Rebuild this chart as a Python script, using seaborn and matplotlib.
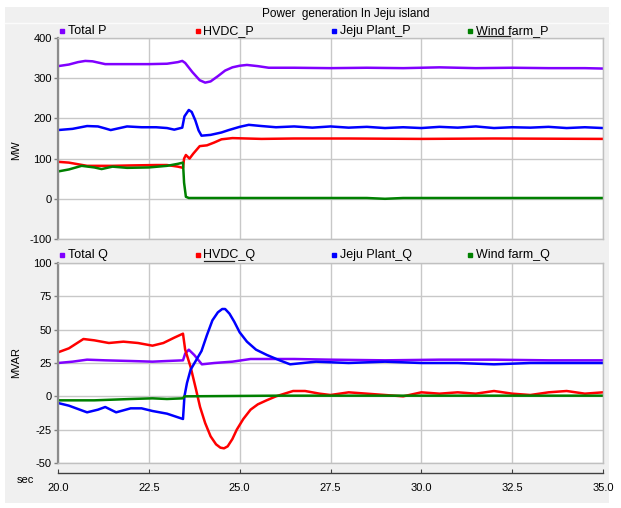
import numpy as np
import pandas as pd
import matplotlib
matplotlib.use("Agg")
import matplotlib.pyplot as plt
import seaborn as sns
from matplotlib.patches import Rectangle
from matplotlib.lines import Line2D

# ---------------- data ----------------
title = "Power  generation In Jeju island"
series_p = ["Total P", "HVDC_P", "Jeju Plant_P", "Wind farm_P"]
series_q = ["Total Q", "HVDC_Q", "Jeju Plant_Q", "Wind farm_Q"]
colors = ["#8000ff", "#ff0000", "#0000ff", "#008000"]

x_ticks = [20.0, 22.5, 25.0, 27.5, 30.0, 32.5, 35.0]
x_tick_labels = ["20.0", "22.5", "25.0", "27.5", "30.0", "32.5", "35.0"]
p_ticks = [400, 300, 200, 100, 0, -100]
q_ticks = [100, 75, 50, 25, 0, -25, -50]

t_total_p = [20.0, 20.3, 20.55, 20.75, 20.95, 21.15, 21.3, 22.0, 22.5, 23.0, 23.3, 23.42, 23.5,
             23.7, 23.9, 24.05, 24.2, 24.4, 24.6, 24.8, 25.0, 25.2, 25.5, 25.8, 26.5, 27.5,
             28.5, 29.5, 30.5, 31.5, 32.5, 33.5, 34.5, 35.0]
v_total_p = [330, 334, 340, 343, 342, 338, 335, 335, 335, 336, 340, 343, 338,
             315, 295, 289, 292, 305, 319, 327, 331, 333, 330, 326, 326, 325,
             326, 325, 327, 325, 326, 325, 325, 324]

t_hvdc_p = [20.0, 20.3, 20.8, 21.5, 22.0, 22.7, 23.0, 23.3, 23.44, 23.47, 23.52, 23.62, 23.72,
            23.9, 24.1, 24.3, 24.5, 24.8, 25.2, 25.6, 26.5, 28.0, 30.0, 32.0, 35.0]
v_hvdc_p = [92, 90, 82, 82, 83, 84, 84, 80, 77, 100, 109, 100, 112,
            131, 133, 140, 148, 151, 150, 149, 150, 150, 149, 150, 149]

t_jeju_p = [20.0, 20.4, 20.8, 21.1, 21.3, 21.45, 21.7, 21.9, 22.3, 22.7, 23.0, 23.2, 23.42, 23.48,
            23.6, 23.68, 23.78, 23.87, 23.95, 24.2, 24.5, 24.7, 25.0, 25.25, 25.6, 26.0, 26.5,
            27.0, 27.5, 28.0, 28.5, 29.0, 29.5, 30.0, 30.5, 31.0, 31.5, 32.0, 32.5, 33.0, 33.5,
            34.0, 34.5, 35.0]
v_jeju_p = [171, 174, 181, 180, 175, 171, 176, 180, 178, 178, 176, 172, 177, 205,
            221, 216, 195, 170, 157, 159, 165, 171, 179, 184, 181, 178, 180,
            177, 180, 177, 179, 176, 178, 176, 179, 177, 180, 176, 178, 177, 179,
            176, 178, 176]

t_wind_p = [20.0, 20.3, 20.65, 21.0, 21.2, 21.5, 21.9, 22.5, 23.0, 23.3, 23.44, 23.47, 23.52,
            23.6, 25.0, 28.5, 29.0, 29.5, 32.0, 35.0]
v_wind_p = [68, 73, 82, 78, 74, 80, 77, 78, 82, 87, 90, 40, 5,
            2, 2, 2, 0, 2, 2, 2]

t_total_q = [20.0, 20.4, 20.8, 21.3, 22.0, 22.6, 23.0, 23.44, 23.5, 23.6, 23.75, 23.96, 24.3,
             24.8, 25.3, 26.0, 26.5, 27.5, 29.0, 30.5, 32.0, 33.5, 35.0]
v_total_q = [25, 26, 27.5, 27, 26.5, 26, 26.5, 27, 32, 35, 31, 24, 25,
             26, 28, 28, 28, 27.5, 27, 27.5, 27.5, 27, 27]

t_hvdc_q = [20.0, 20.3, 20.7, 21.0, 21.4, 21.8, 22.2, 22.6, 22.9, 23.2, 23.44, 23.5, 23.65, 23.8,
            23.91, 24.05, 24.2, 24.35, 24.47, 24.57, 24.67, 24.8, 24.92, 25.1, 25.3, 25.5, 25.74,
            26.0, 26.47, 26.8, 27.2, 27.5, 28.0, 28.5, 29.0, 29.5, 30.0, 30.5, 31.0, 31.5, 32.0,
            32.5, 33.0, 33.5, 34.0, 34.5, 35.0]
v_hvdc_q = [33, 36, 43, 42, 40, 41, 40, 38, 40, 44, 47, 35, 22, 5,
            -8, -20, -30, -36, -38.5, -39, -37.5, -32, -25, -17, -10, -6, -3,
            0, 4, 4, 2, 1, 3, 2, 1, 0, 3, 2, 3, 2, 4,
            2, 1, 3, 4, 2, 3]

t_jeju_q = [20.0, 20.3, 20.8, 21.1, 21.3, 21.6, 22.0, 22.3, 22.6, 23.0, 23.44, 23.48, 23.55, 23.65,
            23.8, 23.95, 24.1, 24.25, 24.4, 24.52, 24.6, 24.72, 24.85, 25.0, 25.2, 25.45, 25.75,
            26.1, 26.39, 27.1, 28.0, 29.0, 30.0, 31.0, 32.0, 33.0, 34.0, 35.0]
v_jeju_q = [-5, -7, -12, -10, -8, -12, -9, -9, -11, -13, -17, 0, 10, 20,
            27, 34, 46, 57, 63, 65.5, 65.5, 62, 56, 48, 41, 35, 31,
            27, 24, 26, 25, 26, 25, 25, 24, 25, 25, 25]

t_wind_q = [20.0, 21.0, 22.0, 22.6, 23.0, 23.44, 23.48, 26.0, 35.0]
v_wind_q = [-3, -3, -2, -1.5, -2, -1.5, 0, 0.5, 0.5]


def long_df(names, ts, vs):
    parts = [pd.DataFrame({"t": t, "v": v, "s": n}) for n, t, v in zip(names, ts, vs)]
    return pd.concat(parts, ignore_index=True)


df_p = long_df(series_p, [t_total_p, t_hvdc_p, t_jeju_p, t_wind_p],
               [v_total_p, v_hvdc_p, v_jeju_p, v_wind_p])
df_q = long_df(series_q, [t_total_q, t_hvdc_q, t_jeju_q, t_wind_q],
               [v_total_q, v_hvdc_q, v_jeju_q, v_wind_q])

# ---------------- figure ----------------
plt.rcParams["font.family"] = ["Liberation Sans", "DejaVu Sans"]
W, H = 621, 508
fig = plt.figure(figsize=(W / 100, H / 100), dpi=100, facecolor="white")


def fx(x):
    return x / W


def fy(y):
    return 1 - y / H


fig.add_artist(Rectangle((fx(5), fy(503)), fx(609) - fx(5), fy(7) - fy(503),
                         transform=fig.transFigure, facecolor="#f0f0f0",
                         edgecolor="none", zorder=0))
fig.add_artist(Line2D([fx(5), fx(609)], [fy(22.5), fy(22.5)], transform=fig.transFigure,
                      color="#fbfbfb", lw=1, zorder=1))
fig.text(fx(346), fy(14), title, ha="center", va="center", fontsize=8.5, color="#000000")

ax1 = fig.add_axes([fx(58), fy(239), (603 - 58) / W, (239 - 38) / H])
ax2 = fig.add_axes([fx(58), fy(463), (603 - 58) / W, (463 - 263) / H])


def style(ax, df, names, ylim, yticks):
    sns.lineplot(data=df, x="t", y="v", hue="s", hue_order=names, palette=colors,
                 estimator=None, legend=False, lw=1.8, ax=ax)
    ax.set_facecolor("white")
    ax.set_xlim(20, 35)
    ax.set_ylim(*ylim)
    ax.set_xticks(x_ticks)
    ax.set_yticks(yticks)
    ax.set_yticklabels([str(v) for v in yticks])
    ax.tick_params(axis="x", bottom=False, labelbottom=False)
    ax.tick_params(axis="y", direction="out", length=3, width=1, color="#808080",
                   labelsize=8, pad=1.5)
    ax.grid(True, color="#c8c8c8", lw=1)
    ax.set_axisbelow(True)
    ax.set_xlabel("")
    ax.set_ylabel("")
    for k in ["top", "right", "bottom"]:
        ax.spines[k].set_color("#c0c0c0")
        ax.spines[k].set_linewidth(1)
    ax.spines["left"].set_color("#8c8c8c")
    ax.spines["left"].set_linewidth(1.6)


style(ax1, df_p, series_p, (-100, 400), p_ticks)
style(ax2, df_q, series_q, (-50, 100), q_ticks)

fig.text(fx(16), fy(150), "MW", rotation=90, ha="center", va="center", fontsize=8)
fig.text(fx(16), fy(362), "MVAR", rotation=90, ha="center", va="center", fontsize=8)

# legends
leg_x = [62, 198, 334, 470]
for names, ly in [(series_p, 31), (series_q, 255)]:
    for name, c, lx in zip(names, colors, leg_x):
        fig.add_artist(Line2D([fx(lx)], [fy(ly)], transform=fig.transFigure, marker="s",
                              markersize=3.2, color=c, lw=0))
        fig.text(fx(lx + 5.5), fy(ly), name, ha="left", va="center", fontsize=9)
fig.add_artist(Line2D([fx(477), fx(510)], [fy(35.5), fy(35.5)], transform=fig.transFigure,
                      color="#202020", lw=0.9))
fig.add_artist(Line2D([fx(203.5), fx(234)], [fy(260.5), fy(260.5)], transform=fig.transFigure,
                      color="#202020", lw=0.9))

# separate time axis
ax3 = fig.add_axes([fx(58), fy(473), (603 - 58) / W, 0.0005])
ax3.set_facecolor("none")
ax3.set_xlim(20, 35)
ax3.set_xticks(x_ticks)
ax3.set_xticklabels(x_tick_labels)
ax3.set_yticks([])
for k in ["top", "right", "left"]:
    ax3.spines[k].set_visible(False)
ax3.spines["bottom"].set_color("#404040")
ax3.spines["bottom"].set_linewidth(1)
ax3.tick_params(axis="x", direction="in", length=3, color="#404040", labelsize=8, pad=7)
fig.text(fx(25), fy(480), "sec", ha="center", va="center", fontsize=8)

fig.savefig("out.png", dpi=100, facecolor="white")
